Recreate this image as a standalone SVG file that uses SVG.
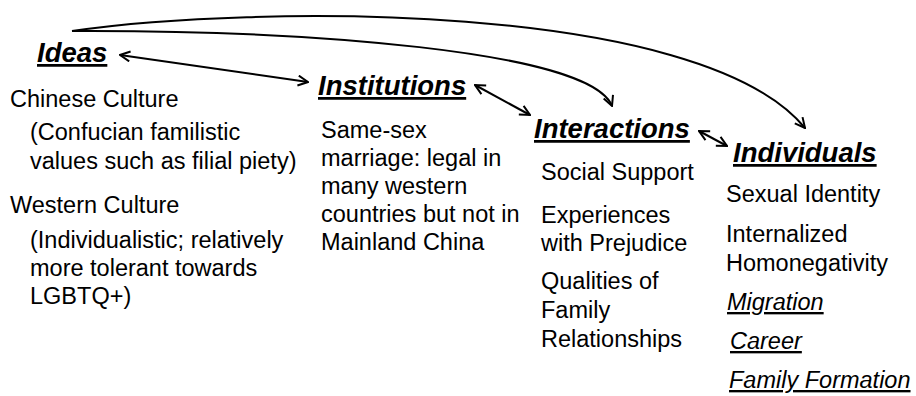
<svg xmlns="http://www.w3.org/2000/svg" width="916" height="396" viewBox="0 0 916 396">
<defs>
<marker id="ah" viewBox="0 0 12 12" refX="11" refY="6" markerWidth="12" markerHeight="12" markerUnits="userSpaceOnUse" orient="auto-start-reverse">
<path d="M1,1 L11,6 L1,11" fill="none" stroke="#000" stroke-width="2"/>
</marker>
<style>
text{font-family:"Liberation Sans",Arial,sans-serif;fill:#000}
.h{font-size:27.5px;font-weight:bold;font-style:italic;text-decoration:underline}
.b{font-size:23.5px}
.i{font-size:23.5px;font-style:italic;text-decoration:underline}
.c{fill:none;stroke:#000;stroke-width:2}
</style>
</defs>
<rect width="916" height="396" fill="#fff"/>
<g id="connectors">
<path class="c" d="M72,31 C250,5 700,0 805,128" marker-end="url(#ah)"/>
<path class="c" d="M72,31 C300,30 590,50 612,106" marker-end="url(#ah)"/>
<path class="c" d="M120,55 L308,82" marker-start="url(#ah)" marker-end="url(#ah)"/>
<path class="c" d="M475,85 L530,115" marker-start="url(#ah)" marker-end="url(#ah)"/>
<path class="c" d="M699,131 L727,146" marker-start="url(#ah)" marker-end="url(#ah)"/>
</g>
<g id="ideas">
<text class="h" x="37" y="62">Ideas</text>
<text class="b" x="10" y="107">Chinese Culture</text>
<text class="b" x="30" y="140">(Confucian familistic</text>
<text class="b" x="30" y="169">values such as filial piety)</text>
<text class="b" x="10" y="213">Western Culture</text>
<text class="b" x="30" y="248">(Individualistic; relatively</text>
<text class="b" x="30" y="276">more tolerant towards</text>
<text class="b" x="30" y="304">LGBTQ+)</text>
</g>
<g id="institutions">
<text class="h" x="318" y="95">Institutions</text>
<text class="b" x="321" y="138">Same-sex</text>
<text class="b" x="321" y="166">marriage: legal in</text>
<text class="b" x="321" y="194">many western</text>
<text class="b" x="321" y="222">countries but not in</text>
<text class="b" x="321" y="250">Mainland China</text>
</g>
<g id="interactions">
<text class="h" x="534" y="138">Interactions</text>
<text class="b" x="541" y="180">Social Support</text>
<text class="b" x="541" y="223">Experiences</text>
<text class="b" x="541" y="251">with Prejudice</text>
<text class="b" x="541" y="289">Qualities of</text>
<text class="b" x="541" y="318">Family</text>
<text class="b" x="541" y="347">Relationships</text>
</g>
<g id="individuals">
<text class="h" x="733" y="162">Individuals</text>
<text class="b" x="726" y="202">Sexual Identity</text>
<text class="b" x="726" y="242">Internalized</text>
<text class="b" x="726" y="271">Homonegativity</text>
<text class="i" x="727" y="310">Migration</text>
<text class="i" x="730" y="349">Career</text>
<text class="i" x="729" y="388">Family Formation</text>
</g>
</svg>
